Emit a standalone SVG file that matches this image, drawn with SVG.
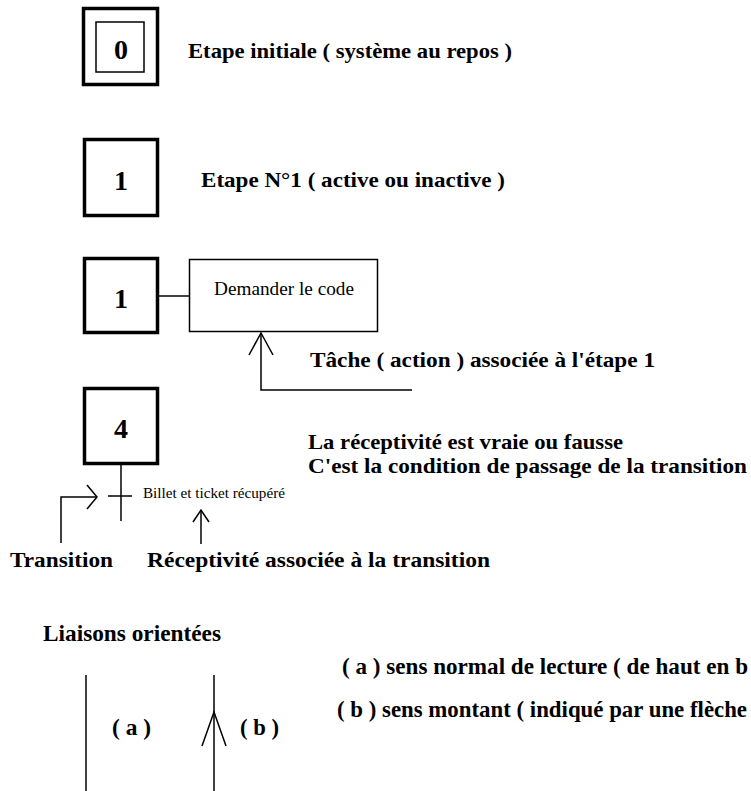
<svg xmlns="http://www.w3.org/2000/svg" width="751" height="791" viewBox="0 0 751 791">
<style>
.step{fill:#fff;stroke:#000;stroke-width:3.5}
.box{fill:#fff;stroke:#000;stroke-width:1.5}
.ln{fill:none;stroke:#000;stroke-width:1.5}
text{font-family:'Liberation Serif','Times New Roman',Times,serif;fill:#000}
.num{font-weight:bold;font-size:28px;text-anchor:middle}
.lbl{font-weight:bold;font-size:22px}
.cond{font-weight:bold;font-size:23px}
.edge{font-weight:bold;font-size:22.5px}
.reg{font-size:19px}
.small{font-size:15px}
</style>
<rect width="751" height="791" fill="#fff"/>
<g id="connectors">
<line class="ln" x1="159" y1="296" x2="189" y2="296"/>
<polyline class="ln" points="412,390 261,390 261,333"/>
<polyline class="ln" points="249,355 261,333 273,355"/>
<line class="ln" x1="121" y1="465" x2="121" y2="521"/>
<line class="ln" x1="108" y1="496" x2="132" y2="496"/>
<polyline class="ln" points="61,543 61,497 97,497"/>
<polyline class="ln" points="87,485 97,497 87,509"/>
<line class="ln" x1="201" y1="510" x2="201" y2="544"/>
<polyline class="ln" points="193,522 201,510 209,522"/>
<line class="ln" x1="86" y1="675" x2="86" y2="791"/>
<line class="ln" x1="214" y1="675" x2="214" y2="791"/>
<polyline class="ln" points="202,746 214,712 226,746"/>
</g>
<g id="step0">
<rect class="step" x="83.5" y="8.5" width="74" height="76"/>
<rect class="box" x="96" y="22" width="48" height="50"/>
<text class="num" x="121" y="59">0</text>
</g>
<g id="label-step0"><text class="lbl" x="188" y="58" textLength="324" lengthAdjust="spacingAndGlyphs">Etape initiale ( système au repos )</text></g>
<g id="step1">
<rect class="step" x="84.5" y="139.5" width="73" height="76"/>
<text class="num" x="121" y="190">1</text>
</g>
<g id="label-step1"><text class="lbl" x="201" y="187" textLength="304" lengthAdjust="spacingAndGlyphs">Etape N°1 ( active ou inactive )</text></g>
<g id="step1-action">
<rect class="step" x="84.5" y="258.5" width="73" height="74"/>
<text class="num" x="121" y="308">1</text>
</g>
<g id="action">
<rect class="box" x="189.5" y="259.5" width="188" height="72"/>
<text class="reg" x="214" y="295" textLength="140" lengthAdjust="spacingAndGlyphs">Demander le code</text>
</g>
<g id="label-action"><text class="lbl" x="310" y="367" textLength="345" lengthAdjust="spacingAndGlyphs">Tâche ( action ) associée à l'étape 1</text></g>
<g id="step4">
<rect class="step" x="84.5" y="388.5" width="73" height="75"/>
<text class="num" x="121" y="438">4</text>
</g>
<g id="receptivity">
<text class="small" x="143" y="498" textLength="142" lengthAdjust="spacingAndGlyphs">Billet et ticket récupéré</text>
</g>
<g id="label-receptivity">
<text class="lbl" x="308" y="449" textLength="315" lengthAdjust="spacingAndGlyphs">La réceptivité est vraie ou fausse</text>
<text class="lbl" x="308" y="473" textLength="439" lengthAdjust="spacingAndGlyphs">C'est la condition de passage de la transition</text>
</g>
<g id="label-transition"><text class="lbl" x="10" y="567" textLength="103" lengthAdjust="spacingAndGlyphs">Transition</text></g>
<g id="label-assoc"><text class="lbl" x="147" y="567" textLength="343" lengthAdjust="spacingAndGlyphs">Réceptivité associée à la transition</text></g>
<g id="liaisons">
<text class="cond" x="43" y="641" textLength="178" lengthAdjust="spacingAndGlyphs">Liaisons orientées</text>
<text class="cond" x="112" y="735" textLength="39" lengthAdjust="spacingAndGlyphs">( a )</text>
<text class="cond" x="240" y="735" textLength="39" lengthAdjust="spacingAndGlyphs">( b )</text>
<text class="edge" x="342" y="674" textLength="406" lengthAdjust="spacingAndGlyphs">( a ) sens normal de lecture ( de haut en b</text>
<text class="edge" x="337" y="717" textLength="410" lengthAdjust="spacingAndGlyphs">( b ) sens montant ( indiqué par une flèche</text>
</g>
</svg>
